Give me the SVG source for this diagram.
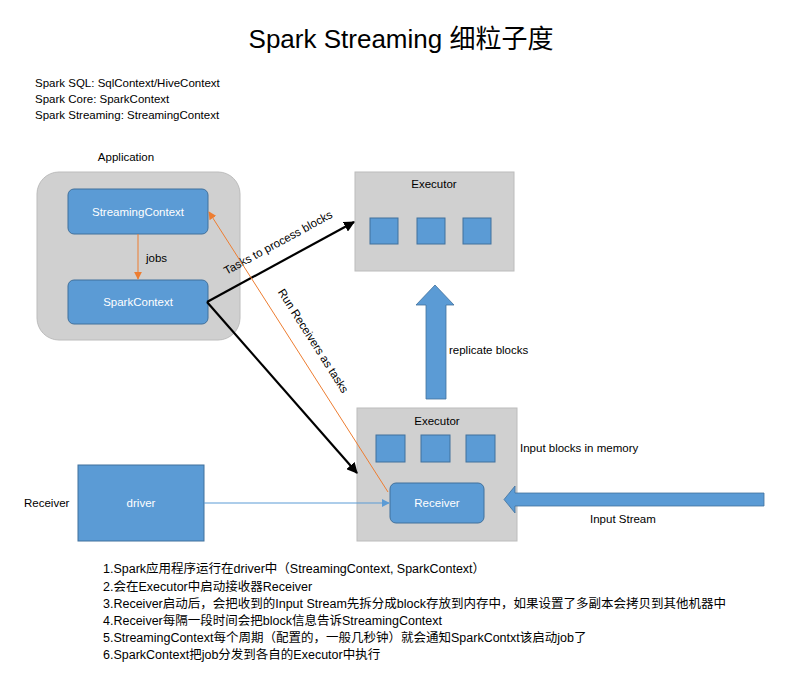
<svg xmlns="http://www.w3.org/2000/svg" width="788" height="684" viewBox="0 0 788 684">
<style>
text{font-family:"Liberation Sans","Noto Sans CJK SC",sans-serif;fill:#000;}
.t{font-size:11.5px;}
.s{font-size:12.5px;}
.w{font-size:11.5px;fill:#fff;text-anchor:middle;}
.gray{fill:#d0d0d0;stroke:#bcbcbc;stroke-width:1;}
.blue{fill:#5b9bd5;stroke:#41719c;stroke-width:1;}
.blk{stroke:#000;stroke-width:2.2;fill:none;}
.or{stroke:#ed7d31;stroke-width:1;fill:none;}
</style>
<defs>
<marker id="ab" viewBox="0 0 10 10" refX="9" refY="5" markerWidth="5" markerHeight="5" orient="auto" markerUnits="strokeWidth"><path d="M0,0 L10,5 L0,10 z" fill="#000"/></marker>
<marker id="ao" viewBox="0 0 10 10" refX="9" refY="5" markerWidth="8" markerHeight="8" orient="auto" markerUnits="strokeWidth"><path d="M0,0 L10,5 L0,10 z" fill="#ed7d31"/></marker>
<marker id="abl" viewBox="0 0 10 10" refX="9" refY="5" markerWidth="8" markerHeight="8" orient="auto" markerUnits="strokeWidth"><path d="M0,0 L10,5 L0,10 z" fill="#5b9bd5"/></marker>
</defs>
<rect width="788" height="684" fill="#fff"/>
<text x="401" y="48" font-size="26" text-anchor="middle">Spark Streaming 细粒子度</text>
<g id="notes">
<text class="t" x="35" y="87">Spark SQL: SqlContext/HiveContext</text>
<text class="t" x="35" y="103">Spark Core: SparkContext</text>
<text class="t" x="35" y="119">Spark Streaming: StreamingContext</text>
</g>
<g id="application">
<text class="t" x="126" y="161" text-anchor="middle">Application</text>
<rect class="gray" x="37" y="172" width="203" height="168" rx="22"/>
</g>
<g id="streamingcontext">
<rect class="blue" x="68" y="189" width="140" height="45" rx="6"/>
<text class="w" x="138" y="216">StreamingContext</text>
</g>
<g id="sparkcontext">
<rect class="blue" x="68" y="280" width="140" height="44" rx="6"/>
<text class="w" x="138" y="306">SparkContext</text>
</g>
<g id="executor-top">
<rect class="gray" x="355" y="172" width="159" height="99"/>
<text class="t" x="434" y="188" text-anchor="middle">Executor</text>
<rect class="blue" x="370" y="218" width="28" height="26"/>
<rect class="blue" x="417" y="218" width="28" height="26"/>
<rect class="blue" x="463" y="218" width="28" height="26"/>
</g>
<g id="executor-bottom">
<rect class="gray" x="357" y="408" width="160" height="133"/>
<text class="t" x="437" y="425" text-anchor="middle">Executor</text>
<rect class="blue" x="376" y="435" width="29" height="27"/>
<rect class="blue" x="421" y="435" width="29" height="27"/>
<rect class="blue" x="466" y="435" width="29" height="27"/>
<text class="t" x="520" y="452">Input blocks in memory</text>
</g>
<g id="receiver">
<rect class="blue" x="390" y="483" width="94" height="40" rx="6"/>
<text class="w" x="437" y="507">Receiver</text>
</g>
<g id="driver">
<rect class="blue" x="78" y="465" width="126" height="76"/>
<text class="w" x="141" y="507">driver</text>
<text class="t" x="24" y="507">Receiver</text>
</g>
<g id="connectors">
<line class="or" x1="138" y1="234" x2="138" y2="279" marker-end="url(#ao)"/>
<text class="t" x="146" y="262">jobs</text>
<line class="blk" x1="207" y1="302" x2="354" y2="222" marker-end="url(#ab)"/>
<text class="t" transform="translate(280,246) rotate(-28.4)" text-anchor="middle">Tasks to process blocks</text>
<line class="blk" x1="207" y1="302" x2="357" y2="473" marker-end="url(#ab)"/>
<line class="or" x1="388" y1="492" x2="209" y2="212" marker-end="url(#ao)"/>
<text class="t" transform="translate(310,343) rotate(57.5)" text-anchor="middle">Run Receivers as tasks</text>
<line x1="204" y1="503" x2="389" y2="503" stroke="#5b9bd5" stroke-width="1" marker-end="url(#abl)"/>
<path d="M426,399 L426,305 L416,305 L435,285 L454,305 L446,305 L446,399 Z" fill="#5b9bd5" stroke="#41719c" stroke-width="0.8"/>
<text class="t" x="449" y="354">replicate blocks</text>
<path d="M764,493 L515,493 L515,486 L504,499.5 L515,513 L515,506 L764,506 Z" fill="#5b9bd5" stroke="#41719c" stroke-width="0.8"/>
<text class="t" x="590" y="523">Input Stream</text>
</g>
<g id="steps">
<text class="s" x="103" y="573">1.Spark应用程序运行在driver中（StreamingContext, SparkContext）</text>
<text class="s" x="103" y="591">2.会在Executor中启动接收器Receiver</text>
<text class="s" x="103" y="608">3.Receiver启动后，会把收到的Input Stream先拆分成block存放到内存中，如果设置了多副本会拷贝到其他机器中</text>
<text class="s" x="103" y="625">4.Receiver每隔一段时间会把block信息告诉StreamingContext</text>
<text class="s" x="103" y="642">5.StreamingContext每个周期（配置的，一般几秒钟）就会通知SparkContxt该启动job了</text>
<text class="s" x="103" y="659">6.SparkContext把job分发到各自的Executor中执行</text>
</g>
</svg>
